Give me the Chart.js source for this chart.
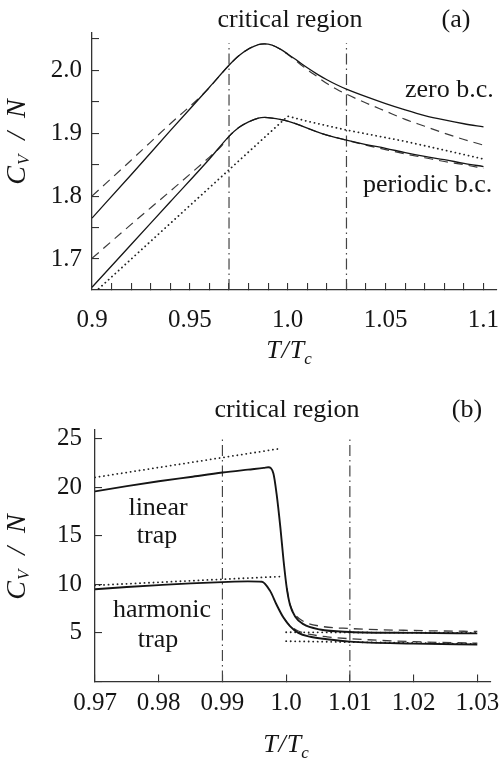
<!DOCTYPE html>
<html>
<head>
<meta charset="utf-8">
<script src="https://cdn.jsdelivr.net/npm/chart.js@4.4.1/dist/chart.umd.min.js"></script>
<style>
  html, body { margin: 0; padding: 0; background: #fff; }
  #wrap { position: relative; width: 502px; height: 762px; }
  #cvA { position: absolute; left: 0; top: 0; }
  #cvB { position: absolute; left: 0; top: 380px; }
</style>
</head>
<body>
<div id="wrap">
  <canvas id="cvA" width="502" height="380"></canvas>
  <canvas id="cvB" width="502" height="382"></canvas>
</div>
<script>
// ---- panel (a): C_V/N near T_c, zero vs periodic boundary conditions
const tZero       = [0.9, 0.92, 0.94, 0.96, 0.97, 0.975, 0.98, 0.985, 0.988, 0.992, 0.996, 1.0, 1.005, 1.01, 1.015, 1.02, 1.025, 1.03, 1.04, 1.05, 1.06, 1.07, 1.08, 1.09, 1.1];
const cvZeroSolid = [1.765, 1.834, 1.904, 1.973, 2.008, 2.023, 2.034, 2.041, 2.042, 2.040, 2.034, 2.026, 2.015, 2.004, 1.994, 1.985, 1.977, 1.970, 1.958, 1.947, 1.937, 1.928, 1.921, 1.915, 1.910];
const tZeroDash   = [0.9, 0.92, 0.94, 0.958, 0.97, 0.975, 0.98, 0.985, 0.988, 0.992, 0.996, 1.0, 1.005, 1.01, 1.015, 1.02, 1.025, 1.03, 1.04, 1.05, 1.06, 1.07, 1.08, 1.09, 1.1];
const cvZeroDash  = [1.800, 1.857, 1.915, 1.966, 2.008, 2.023, 2.034, 2.041, 2.042, 2.040, 2.034, 2.025, 2.013, 2.001, 1.990, 1.979, 1.970, 1.962, 1.948, 1.935, 1.922, 1.911, 1.900, 1.890, 1.881];
const tPer        = [0.9, 0.92, 0.94, 0.96, 0.97, 0.975, 0.98, 0.985, 0.988, 0.992, 0.996, 1.0, 1.005, 1.01, 1.015, 1.02, 1.03, 1.04, 1.05, 1.06, 1.07, 1.08, 1.09, 1.1];
const cvPerSolid  = [1.655, 1.723, 1.791, 1.859, 1.895, 1.909, 1.918, 1.924, 1.925, 1.924, 1.922, 1.919, 1.914, 1.908, 1.902, 1.897, 1.889, 1.882, 1.876, 1.869, 1.863, 1.858, 1.852, 1.847];
const tPerDash    = [0.9, 0.92, 0.94, 0.96, 0.966, 0.97, 0.975, 0.98, 0.985, 0.988, 0.992, 0.996, 1.0, 1.005, 1.01, 1.015, 1.02, 1.03, 1.04, 1.05, 1.06, 1.07, 1.08, 1.09, 1.1];
const cvPerDash   = [1.701, 1.755, 1.808, 1.862, 1.879, 1.895, 1.909, 1.918, 1.924, 1.925, 1.924, 1.922, 1.919, 1.914, 1.908, 1.902, 1.897, 1.889, 1.881, 1.874, 1.867, 1.861, 1.855, 1.850, 1.844];
const tPerDot     = [0.9, 1.0, 1.01, 1.02, 1.03, 1.04, 1.05, 1.06, 1.07, 1.08, 1.09, 1.1];
const cvPerDot    = [1.643, 1.927, 1.919, 1.912, 1.905, 1.899, 1.893, 1.887, 1.880, 1.873, 1.866, 1.859];
const critA       = [0.97, 1.03];
const critSpanA   = [1.6507, 2.043];
const xMajorA     = [0.9, 0.95, 1.0, 1.05, 1.1];
const yMajorA     = [1.7, 1.8, 1.9, 2.0];

// ---- panel (b): linear and harmonic trap
const tLin        = [0.97, 0.975, 0.98, 0.985, 0.99, 0.994, 0.9965, 0.9972, 0.998, 0.9985, 0.9991, 0.9996, 1.0001, 1.0006, 1.0014, 1.0027, 1.0053, 1.01, 1.02, 1.03];
const cvLinSolid  = [19.56, 20.1, 20.6, 21.05, 21.5, 21.8, 21.98, 22.04, 21.4, 19.3, 15.8, 12.4, 9.6, 7.9, 6.7, 5.9, 5.35, 5.1, 5.0, 4.95];
const tLinDash    = [1.0001, 1.0006, 1.0014, 1.0027, 1.0053, 1.01, 1.02, 1.03];
const cvLinDash   = [9.6, 7.95, 6.9, 6.2, 5.7, 5.45, 5.25, 5.15];
const tHar        = [0.97, 0.975, 0.98, 0.985, 0.99, 0.994, 0.9962, 0.9975, 0.9985, 0.9996, 1.0006, 1.0019, 1.0038, 1.0064, 1.01, 1.02, 1.03];
const cvHarSolid  = [9.5, 9.72, 9.92, 10.1, 10.23, 10.3, 10.27, 9.3, 7.9, 6.55, 5.7, 5.0, 4.6, 4.35, 4.1, 3.9, 3.8];
const tHarDash    = [0.9996, 1.0006, 1.0019, 1.0038, 1.0064, 1.01, 1.02, 1.03];
const cvHarDash   = [6.55, 5.75, 5.2, 4.85, 4.6, 4.4, 4.1, 3.95];
const tLinDotLow  = [0.97, 0.9988];
const cvLinDotLow = [21.0, 23.94];
const tLinDotHigh = [1.0, 1.03];
const cvLinDotHigh = [5.07, 5.0];
const tHarDotLow  = [0.97, 0.999];
const cvHarDotLow = [9.9, 10.8];
const tHarDotHigh = [1.0, 1.03];
const cvHarDotHigh = [4.15, 3.87];
const critB       = [0.99, 1.01];
const critSpanB   = [0, 25.3];
const xMajorB     = [0.97, 0.98, 0.99, 1.0, 1.01, 1.02, 1.03];
const yMajorB     = [5, 10, 15, 20, 25];

const SERIF = '"Liberation Serif", "Times New Roman", serif';
const INK = '#151515';

function pts(xs, ys) { return xs.map((x, i) => ({ x: x, y: ys[i] })); }

function solid(xs, ys, w) {
  return { data: pts(xs, ys), borderColor: INK, borderWidth: w, pointRadius: 0,
           cubicInterpolationMode: 'monotone' };
}
function dashed(xs, ys, w) {
  return { data: pts(xs, ys), borderColor: '#3a3a3a', borderWidth: w, borderDash: [9, 6],
           pointRadius: 0, cubicInterpolationMode: 'monotone' };
}
function dotted(xs, ys) {
  return { data: pts(xs, ys), borderColor: '#222', borderWidth: 1.8, borderDash: [0.1, 4.4],
           borderCapStyle: 'round', pointRadius: 0, tension: 0 };
}
function critLine(x, span) {
  return { data: [{ x: x, y: span[0] }, { x: x, y: span[1] }], borderColor: '#444',
           borderWidth: 1.2, borderDash: [11, 4, 1.5, 4], pointRadius: 0, tension: 0 };
}

function pickLabel(majors, fmt) {
  return function (value) {
    const m = majors.find(v => Math.abs(v - value) < 1e-7);
    return m === undefined ? '' : fmt(m);
  };
}
const fmtT = v => (v === 1 ? '1.0' : String(v));

// italic label built from pieces: [text, size, baseline shift, gap after]
function pieceLabel(ctx, x, y, pieces, angle) {
  const widths = pieces.map(p => {
    ctx.font = 'italic ' + p[1] + 'px ' + SERIF;
    return ctx.measureText(p[0]).width + (p[3] || 0);
  });
  const total = widths.reduce((a, b) => a + b, 0);
  ctx.save();
  ctx.translate(x, y);
  ctx.rotate(angle);
  ctx.textAlign = 'left';
  ctx.textBaseline = 'alphabetic';
  let cx = -total / 2;
  pieces.forEach((p, i) => {
    ctx.font = 'italic ' + p[1] + 'px ' + SERIF;
    ctx.fillText(p[0], cx, p[2]);
    cx += widths[i];
  });
  ctx.restore();
}

const notes = {
  id: 'notes',
  afterDraw(chart, args, opts) {
    const ctx = chart.ctx;
    ctx.save();
    ctx.fillStyle = INK;
    ctx.textBaseline = 'alphabetic';
    opts.texts.forEach(t => {
      ctx.font = '26px ' + SERIF;
      ctx.textAlign = t.align || 'center';
      ctx.fillText(t.s, t.x, t.y);
    });
    pieceLabel(ctx, opts.xTitle[0], opts.xTitle[1],
      [['T', 26, 0, 1], ['/', 26, 0, 1], ['T', 26, 0, 0], ['c', 17, 6, 0]], 0);
    pieceLabel(ctx, opts.yTitle[0], opts.yTitle[1],
      [['C', 28, 0, 1], ['V', 17, 4, 15], ['/', 28, 0, 14], ['N', 28, 0, 0]], -Math.PI / 2);
    ctx.restore();
  }
};

function axisOpts(cfg) {
  return {
    type: 'linear', min: cfg.min, max: cfg.max,
    border: { color: '#333', width: 1.3 },
    grid: { drawOnChartArea: false, tickLength: -7, color: '#333', lineWidth: 1.1 },
    ticks: {
      stepSize: cfg.step, includeBounds: false, autoSkip: false, maxRotation: 0,
      padding: cfg.pad, color: INK, font: { family: SERIF, size: 25 },
      callback: pickLabel(cfg.majors, cfg.fmt)
    },
    afterFit: cfg.fit
  };
}

function makeChart(id, datasets, o) {
  return new Chart(document.getElementById(id), {
    type: 'line',
    data: { datasets: datasets },
    options: {
      responsive: false, animation: false,
      layout: { padding: o.padding },
      plugins: { legend: { display: false }, tooltip: { enabled: false }, notes: o.notes },
      scales: {
        x: axisOpts(Object.assign({ fit: s => {
          s.height = o.xH; s.paddingLeft = 0; s.paddingRight = 0;
        } }, o.x)),
        y: axisOpts(Object.assign({ fit: s => {
          s.width = o.yW; s.paddingTop = 0; s.paddingBottom = 0;
        } }, o.y))
      }
    },
    plugins: [notes]
  });
}

makeChart('cvA', [
  solid(tZero, cvZeroSolid, 1.3),
  dashed(tZeroDash, cvZeroDash, 1.2),
  solid(tPer, cvPerSolid, 1.3),
  dashed(tPerDash, cvPerDash, 1.2),
  dotted(tPerDot, cvPerDot),
  critLine(critA[0], critSpanA),
  critLine(critA[1], critSpanA)
], {
  padding: { left: 0, top: 33, right: 5, bottom: 0 },
  xH: 90, yW: 92,
  x: { min: 0.9, max: 1.1069, step: 0.01, majors: xMajorA, fmt: fmtT, pad: 22 },
  y: { min: 1.6507, max: 2.0593, step: 0.05, majors: yMajorA, fmt: v => v.toFixed(1), pad: 17 },
  notes: {
    texts: [
      { s: 'critical region', x: 290, y: 27 },
      { s: '(a)', x: 456, y: 27 },
      { s: 'zero b.c.', x: 405, y: 97, align: 'left' },
      { s: 'periodic b.c.', x: 363, y: 192, align: 'left' }
    ],
    xTitle: [289, 358],
    yTitle: [25, 142]
  }
});

makeChart('cvB', [
  solid(tLin, cvLinSolid, 1.9),
  dashed(tLinDash, cvLinDash, 1.3),
  solid(tHar, cvHarSolid, 1.9),
  dashed(tHarDash, cvHarDash, 1.3),
  dotted(tLinDotLow, cvLinDotLow),
  dotted(tLinDotHigh, cvLinDotHigh),
  dotted(tHarDotLow, cvHarDotLow),
  dotted(tHarDotHigh, cvHarDotHigh),
  critLine(critB[0], critSpanB),
  critLine(critB[1], critSpanB)
], {
  padding: { left: 0, top: 50, right: 11, bottom: 0 },
  xH: 80.5, yW: 95,
  x: { min: 0.97, max: 1.03215, step: 0.01, majors: xMajorB, fmt: fmtT, pad: 14 },
  y: { min: 0, max: 25.88, step: 5, majors: yMajorB, fmt: v => String(v), pad: 20 },
  notes: {
    texts: [
      { s: 'critical region', x: 287, y: 37 },
      { s: '(b)', x: 467, y: 37 },
      { s: 'linear', x: 158, y: 135 },
      { s: 'trap', x: 157, y: 163 },
      { s: 'harmonic', x: 162, y: 237 },
      { s: 'trap', x: 158, y: 267 }
    ],
    xTitle: [286, 372],
    yTitle: [25, 177]
  }
});
</script>
</body>
</html>
